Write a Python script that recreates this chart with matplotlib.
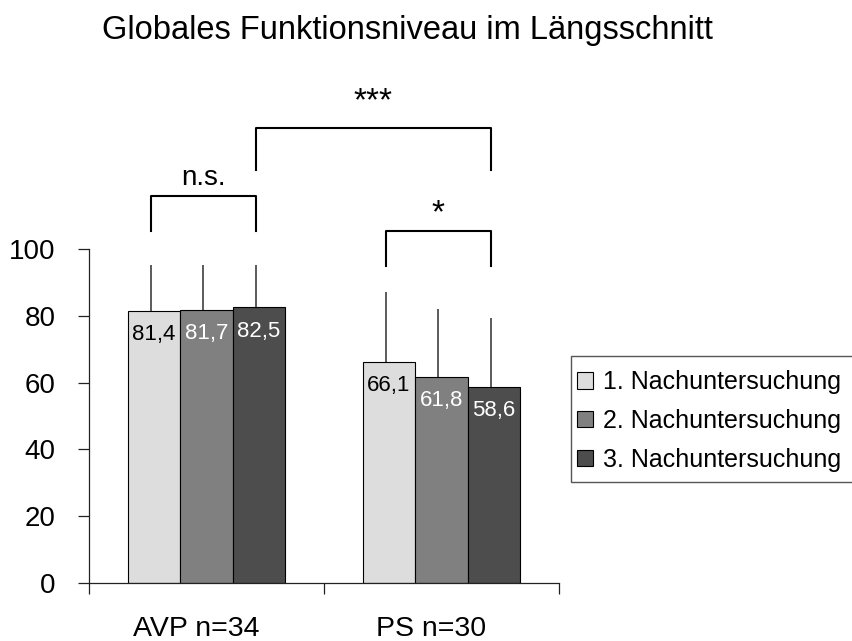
import numpy as np
import matplotlib
matplotlib.use('Agg')
import matplotlib.pyplot as plt
from matplotlib.patches import Patch, Rectangle
from matplotlib.transforms import ScaledTranslation

plt.rcParams['font.family'] = ['Liberation Sans', 'DejaVu Sans']

# data
groups = ['AVP n=34', 'PS n=30']
series = ['1. Nachuntersuchung', '2. Nachuntersuchung', '3. Nachuntersuchung']
means = [[81.4, 66.1],
         [81.7, 61.8],
         [82.5, 58.6]]
err_up = [[13.8, 21.1],
          [13.5, 20.2],
          [12.7, 20.8]]
labels = [['81,4', '66,1'],
          ['81,7', '61,8'],
          ['82,5', '58,6']]
colors = ['#DDDDDD', '#808080', '#4D4D4D']
text_colors = ['black', 'white', 'white']

title = 'Globales Funktionsniveau im Längsschnitt'

fig = plt.figure(figsize=(8.53, 6.41), dpi=100)
ax = fig.add_axes([89/853, 1-583/641, 470/853, 334/641])

x = np.arange(len(groups))
w = 0.2234
shift = -0.013  # error bars sit a little left of bar centre (Excel)

err_x = []
for i in range(3):
    xs = x + (i - 1) * w
    ax.bar(xs, means[i], width=w, color=colors[i], edgecolor='black',
           linewidth=0.8, zorder=2)
    for j in range(len(groups)):
        ax.vlines(xs[j] + shift, means[i][j], means[i][j] + err_up[i][j],
                  color='#404040', linewidth=1.2, zorder=3)
        ax.annotate(labels[i][j], (xs[j], means[i][j]), xytext=(0, -17),
                    textcoords='offset points', ha='center', va='center',
                    fontsize=16, color=text_colors[i], zorder=4)
    err_x.append(xs + shift)

ax.set_xlim(-0.5, 1.5)
ax.set_ylim(0, 100)
ax.set_yticks([0, 20, 40, 60, 80, 100])
ax.set_xticks([-0.5, 0.5, 1.5])
ax.set_xticklabels(['', '', ''])
ax.set_xticks(x, minor=True)
ax.set_xticklabels(groups, minor=True)
ax.tick_params(axis='x', which='minor', length=0, labelsize=20.5, pad=38.5)
nudge = ScaledTranslation(-0.1, 0, fig.dpi_scale_trans)
for t in ax.get_xticklabels(minor=True):
    t.set_va('baseline')
    t.set_transform(t.get_transform() + nudge)
ax.tick_params(axis='x', which='major', length=8, width=0.9, color='#222222')
ax.tick_params(axis='y', length=8, width=0.9, color='#222222', labelsize=20, pad=16)
for s in ['top', 'right']:
    ax.spines[s].set_visible(False)
for s in ['left', 'bottom']:
    ax.spines[s].set_color('#222222')
    ax.spines[s].set_linewidth(0.9)


def bracket(x1, x2, y_leg, y_top, text, ty, size):
    ax.plot([x1, x1, x2, x2], [y_leg, y_top, y_top, y_leg], color='black',
            linewidth=1.5, clip_on=False, zorder=5)
    ax.text((x1 + x2) / 2, ty, text, ha='center', va='center', fontsize=size,
            clip_on=False)


bracket(err_x[0][0], err_x[2][0], 105.5, 115.9, 'n.s.', 121.3, 20)
bracket(err_x[2][0], err_x[2][1], 123.7, 136.3, '***', 144.0, 24)
bracket(err_x[0][1], err_x[2][1], 94.9, 105.4, '*', 110.6, 24)

fig.text(407/853, 1-39.5/641, title, ha='center', va='baseline', fontsize=23.5)

# legend box runs off the right edge of the picture, like the original
fig.patches.append(Rectangle((571/853, 1-482/641), 0.5, 126/641,
                             transform=fig.transFigure, facecolor='white',
                             edgecolor='#555555', linewidth=1.0))
handles = [Patch(facecolor=c, edgecolor='black', linewidth=0.8) for c in colors]
leg = fig.legend(handles, series, loc='upper left',
                 bbox_to_anchor=(571/853, 1-364/641), fontsize=18,
                 frameon=False, handlelength=0.64, handleheight=0.64,
                 handletextpad=0.4, labelspacing=0.59, borderpad=0.25,
                 borderaxespad=0)

fig.savefig('out.png', dpi=100)
